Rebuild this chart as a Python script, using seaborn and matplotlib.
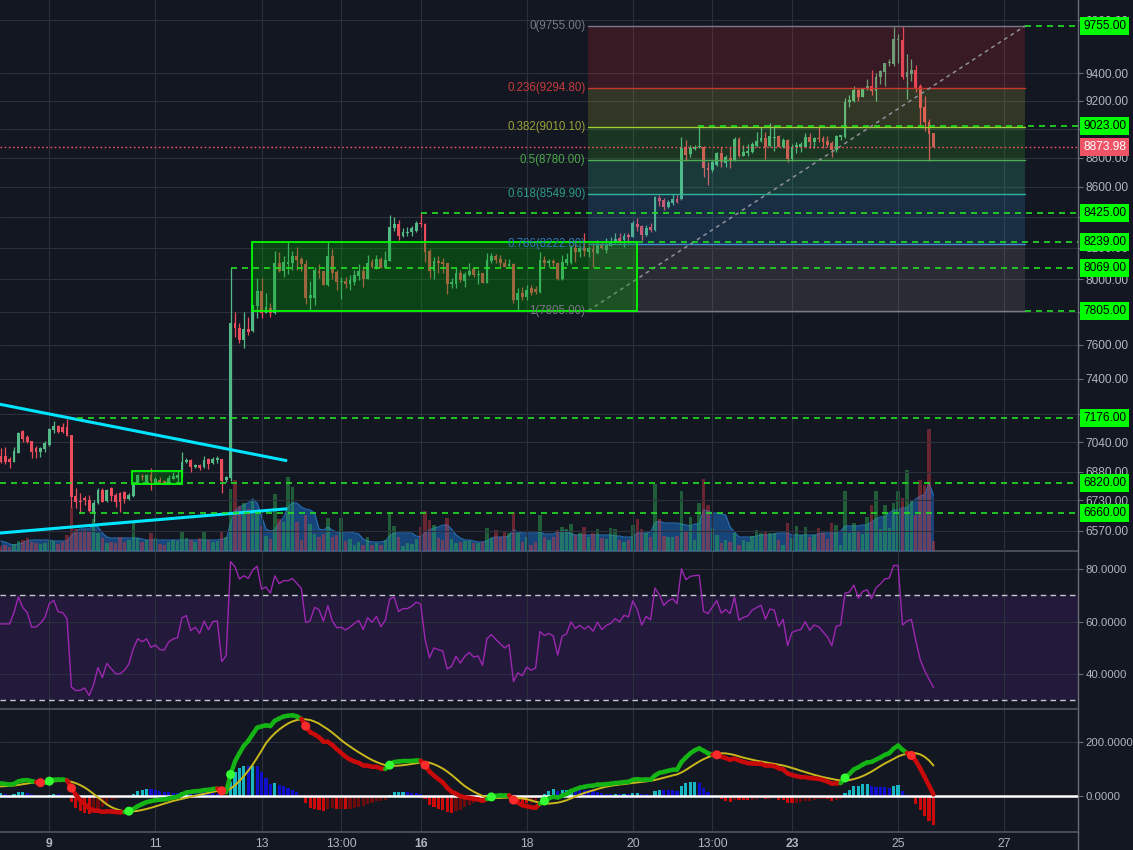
import numpy as np
import matplotlib
matplotlib.use('Agg')
import matplotlib.pyplot as plt
import seaborn as sns
from matplotlib.transforms import blended_transform_factory
from matplotlib.collections import LineCollection
from matplotlib.patches import Rectangle
from matplotlib.lines import Line2D
from matplotlib.ticker import FixedLocator, NullLocator, FixedFormatter

# ---------------- data (2h candles, BTC/USD, Dec 2019) ----------------
opens = [6966, 6966, 6948, 6935, 6984, 7105, 7069, 7048, 7008, 6990,
         7006, 7026, 7109, 7132, 7128, 7128, 7082, 6751, 6727, 6742,
         6730, 6664, 6713, 6783, 6727, 6795, 6757, 6769, 6774, 6734,
         6751, 6819, 6858, 6827, 6863, 6819, 6836, 6833, 6822, 6843,
         6845, 6854, 6933, 6944, 6905, 6917, 6905, 6948, 6926, 6944,
         6949, 6836, 6847, 7729, 7699, 7629, 7693, 7684, 7834, 7929,
         7793, 7824, 7790, 8105, 8054, 8096, 8101, 8147, 8128, 8096,
         7882, 7882, 8054, 8054, 7964, 8147, 8048, 7985, 7989, 7970,
         7985, 8021, 8054, 8002, 8109, 8069, 8128, 8073, 8115, 8326,
         8354, 8276, 8293, 8300, 8308, 8362, 8354, 8181, 8054, 8117,
         8111, 8101, 7970, 7970, 8041, 7989, 8027, 8063, 8029, 8041,
         7979, 8117, 8147, 8128, 8105, 8086, 8096, 7871, 7916, 7892,
         7944, 7937, 7923, 8122, 8101, 8117, 8105, 8000, 8105, 8101,
         8200, 8175, 8196, 8171, 8190, 8164, 8222, 8186, 8211, 8229,
         8265, 8250, 8282, 8271, 8352, 8341, 8282, 8332, 8315, 8528,
         8512, 8468, 8494, 8517, 8517, 8875, 8823, 8859, 8871, 8875,
         8726, 8715, 8749, 8834, 8761, 8799, 8783, 8927, 8811, 8834,
         8841, 8880, 8915, 8936, 8880, 8938, 8950, 8875, 8922, 8790,
         8871, 8875, 8875, 8945, 8906, 8938, 8938, 8917, 8903, 8852,
         8945, 8941, 9194, 9201, 9278, 9230, 9296, 9307, 9273, 9371,
         9412, 9474, 9469, 9649, 9649, 9375, 9395, 9425, 9307, 9157,
         9051, 8973]
highs = [7008, 7017, 6959, 7017, 7100, 7109, 7082, 7048, 7021, 7017,
         7050, 7119, 7158, 7136, 7147, 7169, 7082, 6792, 6765, 6751,
         6757, 6730, 6792, 6792, 6787, 6800, 6765, 6771, 6778, 6765,
         6824, 6868, 6868, 6868, 6899, 6854, 6854, 6836, 6863, 6881,
         6886, 6990, 6953, 6948, 6921, 6922, 6966, 6955, 6962, 6966,
         6949, 6859, 8069, 7796, 7729, 7796, 7765, 7840, 8010, 8006,
         7916, 7851, 8179, 8175, 8147, 8239, 8179, 8207, 8143, 8122,
         7989, 8080, 8096, 8054, 8239, 8192, 8058, 8016, 8016, 8027,
         8058, 8094, 8084, 8154, 8126, 8154, 8143, 8179, 8410, 8398,
         8380, 8326, 8332, 8341, 8375, 8425, 8362, 8190, 8143, 8147,
         8133, 8101, 8006, 8073, 8058, 8048, 8101, 8080, 8058, 8041,
         8168, 8164, 8160, 8154, 8126, 8126, 8105, 7944, 7954, 7964,
         7964, 7958, 8175, 8147, 8126, 8126, 8111, 8154, 8164, 8218,
         8229, 8213, 8293, 8211, 8231, 8250, 8237, 8263, 8271, 8297,
         8293, 8297, 8293, 8375, 8393, 8347, 8347, 8358, 8539, 8546,
         8524, 8512, 8552, 8546, 8943, 8922, 8887, 8887, 9023, 8880,
         8771, 8783, 8840, 8875, 8818, 8875, 8945, 8940, 8887, 8892,
         8910, 8976, 9016, 8980, 9039, 9027, 8957, 8938, 8927, 8892,
         8906, 8906, 8969, 8969, 8945, 9016, 8950, 8950, 8917, 8957,
         8957, 9218, 9242, 9307, 9290, 9295, 9358, 9425, 9405, 9425,
         9479, 9505, 9750, 9694, 9755, 9544, 9504, 9462, 9322, 9234,
         9070, 8973]
lows = [6926, 6923, 6899, 6932, 6981, 7044, 7036, 6954, 6954, 6959,
        6990, 7022, 7091, 7094, 7091, 7076, 6695, 6687, 6660, 6704,
        6669, 6617, 6708, 6720, 6721, 6727, 6695, 6669, 6716, 6730,
        6748, 6815, 6836, 6826, 6783, 6815, 6815, 6819, 6819, 6840,
        6819, 6851, 6926, 6881, 6899, 6890, 6903, 6895, 6922, 6929,
        6765, 6824, 6831, 7645, 7609, 7579, 7658, 7678, 7759, 7759,
        7790, 7765, 7785, 8048, 8016, 8033, 8058, 8058, 8054, 7847,
        7810, 7840, 8006, 7962, 7960, 8002, 7933, 7877, 7946, 7933,
        7964, 7996, 7954, 8002, 8069, 8065, 8069, 8069, 8115, 8310,
        8250, 8271, 8276, 8276, 8304, 8332, 8111, 8006, 7999, 8041,
        8038, 7908, 7944, 7944, 7985, 7954, 8021, 8013, 7970, 7975,
        7975, 8101, 8101, 8080, 8075, 8075, 7855, 7805, 7871, 7871,
        7902, 7908, 7913, 8080, 8080, 8086, 7996, 7996, 8090, 8096,
        8111, 8143, 8147, 8143, 8080, 8160, 8192, 8168, 8208, 8229,
        8224, 8207, 8229, 8267, 8308, 8250, 8276, 8304, 8308, 8472,
        8446, 8457, 8479, 8490, 8512, 8776, 8806, 8852, 8866, 8669,
        8613, 8703, 8742, 8737, 8737, 8726, 8776, 8806, 8811, 8811,
        8834, 8875, 8910, 8790, 8875, 8847, 8871, 8864, 8771, 8778,
        8834, 8841, 8871, 8864, 8864, 8910, 8864, 8875, 8806, 8841,
        8922, 8934, 9158, 9194, 9201, 9225, 9278, 9242, 9201, 9322,
        9307, 9454, 9454, 9479, 9358, 9213, 9346, 9266, 9027, 8987,
        8778, 8874]
closes = [6935, 6935, 6935, 6993, 7094, 7058, 7041, 6990, 6990, 7008,
          7036, 7113, 7132, 7098, 7096, 7078, 6748, 6720, 6721, 6730,
          6674, 6713, 6783, 6721, 6783, 6751, 6721, 6721, 6734, 6757,
          6819, 6863, 6851, 6863, 6831, 6840, 6824, 6822, 6849, 6859,
          6863, 6935, 6944, 6905, 6917, 6901, 6944, 6922, 6951, 6953,
          6833, 6851, 7729, 7699, 7629, 7693, 7678, 7840, 7929, 7793,
          7830, 7793, 8105, 8054, 8111, 8111, 8149, 8122, 8096, 7882,
          7902, 8056, 8041, 7964, 8147, 8038, 7985, 7989, 7970, 7996,
          8027, 8054, 8002, 8101, 8075, 8126, 8069, 8120, 8332, 8354,
          8276, 8304, 8304, 8326, 8362, 8354, 8175, 8051, 8117, 8105,
          8096, 7970, 7985, 8041, 7996, 8033, 8054, 8027, 8033, 7979,
          8122, 8147, 8122, 8101, 8080, 8096, 7871, 7913, 7892, 7933,
          7913, 7923, 8122, 8101, 8114, 8101, 8000, 8111, 8126, 8207,
          8175, 8196, 8179, 8196, 8175, 8225, 8196, 8218, 8229, 8254,
          8243, 8276, 8271, 8358, 8332, 8282, 8326, 8315, 8530, 8506,
          8468, 8501, 8517, 8501, 8864, 8818, 8864, 8875, 8880, 8726,
          8715, 8771, 8829, 8771, 8802, 8783, 8927, 8813, 8836, 8848,
          8894, 8915, 8934, 8875, 8950, 8945, 8875, 8922, 8790, 8875,
          8887, 8894, 8945, 8906, 8938, 8931, 8910, 8889, 8852, 8950,
          8957, 9194, 9206, 9278, 9225, 9291, 9307, 9273, 9375, 9417,
          9474, 9482, 9656, 9656, 9375, 9410, 9425, 9296, 9150, 9051,
          8964, 8873.98]
volumes = [5, 6, 4, 7, 10, 11, 13, 9, 8, 7,
           8, 11, 10, 7, 9, 16, 44, 22, 19, 21,
           19, 32, 18, 13, 8, 9, 8, 14, 9, 11,
           29, 13, 9, 11, 18, 13, 7, 6, 9, 11,
           10, 19, 13, 11, 9, 13, 20, 11, 9, 10,
           20, 14, 62, 71, 45, 48, 42, 50, 38, 25,
           15, 12, 57, 32, 29, 74, 64, 29, 11, 36,
           27, 17, 14, 17, 33, 14, 16, 33, 10, 12,
           6, 9, 6, 14, 6, 8, 6, 11, 38, 25,
           14, 5, 8, 7, 12, 24, 40, 31, 26, 13,
           11, 33, 12, 8, 9, 10, 10, 8, 8, 9,
           23, 13, 21, 14, 19, 18, 39, 18, 9, 14,
           6, 9, 36, 14, 11, 14, 21, 24, 22, 27,
           16, 18, 24, 14, 18, 22, 13, 12, 23, 22,
           11, 9, 11, 26, 32, 22, 18, 14, 67, 32,
           15, 14, 14, 15, 60, 19, 34, 11, 48, 72,
           46, 23, 16, 8, 11, 9, 18, 6, 11, 9,
           15, 21, 18, 20, 18, 18, 11, 6, 28, 13,
           25, 16, 24, 14, 16, 23, 18, 12, 28, 26,
           6, 60, 18, 28, 19, 17, 34, 46, 60, 22,
           46, 23, 48, 60, 53, 81, 51, 36, 71, 66,
           122, 10]
volume_ma = [10, 9, 7, 6, 7, 8, 10, 11, 11, 11,
             11, 11, 10, 10, 10, 10, 15, 20, 22, 22,
             22, 26, 24, 18, 14, 13, 13, 13, 13, 13,
             13, 13, 12, 11, 11, 11, 11, 11, 11, 11,
             11, 11, 11, 11, 11, 11, 11, 11, 11, 11,
             12, 12, 28, 40, 44, 46, 48, 52, 48, 35,
             22, 20, 21, 28, 34, 44, 48, 48, 44, 42,
             41, 38, 22, 21, 24, 21, 19, 19, 19, 19,
             18, 17, 12, 10, 9, 9, 9, 10, 15, 18,
             18, 18, 18, 18, 15, 14, 18, 21, 23, 24,
             26, 26, 22, 16, 13, 11, 11, 10, 9, 9,
             10, 13, 14, 14, 14, 15, 21, 19, 18, 18,
             18, 18, 19, 17, 17, 17, 19, 20, 20, 17,
             16, 16, 16, 16, 16, 16, 16, 16, 16, 15,
             15, 14, 14, 14, 18, 18, 18, 19, 28, 30,
             28, 28, 28, 28, 27, 26, 25, 27, 27, 41,
             40, 38, 38, 37, 36, 24, 19, 14, 14, 14,
             14, 15, 16, 16, 16, 17, 18, 18, 18, 16,
             16, 16, 16, 16, 16, 17, 18, 18, 18, 18,
             20, 25, 25, 25, 25, 26, 26, 29, 32, 34,
             34, 38, 41, 41, 43, 43, 48, 52, 55, 56,
             68, 56]

day_tick_pos = [11, 35, 59, 77, 95, 119, 143, 161, 179, 203, 227]
day_tick_labels = ['9', '11', '13', '13:00', '16', '18', '20', '13:00', '23', '25', '27']
bold_day_labels = ['9', '16', '23']

# price grid; labels hidden under the level tags are left blank
price_ticks = [9800, 9400, 9200, 9000, 8800, 8600, 8400, 8200, 8000, 7800,
               7600, 7400, 7200, 7040, 6880, 6730, 6570]
price_tick_labels = ['9800.00', '9400.00', '9200.00', '', '8800.00', '8600.00', '', '8200.00',
                     '8000.00', '', '7600.00', '7400.00', '', '7040.00', '6880.00', '6730.00',
                     '6570.00']
rsi_ticks = [80, 60, 40]
rsi_tick_labels = ['80.0000', '60.0000', '40.0000']
macd_ticks = [200, 0]
macd_tick_labels = ['200.0000', '0.0000']

level_values = [9755, 9023, 8425, 8239, 8069, 7805, 7176, 6820, 6660]
level_start_bar = [231.7, 157.8, 95.1, 143.9, 52.1, 231.7, 17.3, -0.2, 17.7]
last_price = 8873.98

fib_ratios = [0, 0.236, 0.382, 0.5, 0.618, 0.786, 1]
fib_prices = [9755.00, 9294.80, 9010.10, 8780.00, 8549.90, 8222.80, 7805.00]
fib_bar_span = (132.9, 231.7)

range_box = (56.9, 143.9, 7805, 8239)
small_box = (29.8, 41.0, 6814, 6885)
upper_trend = ((-0.2, 64.8), (7254, 6940))
lower_trend = ((-0.2, 64.8), (6558, 6684))

rsi_start_gain, rsi_start_loss = 26.0, 18.0
ema_fast_start_offset, ema_slow_start_offset, signal_start = -15.0, -62.0, 34.0

# ---------------- style ----------------
BG = '#131722'
GRID = '#2c303c'
TXT = '#b2b5be'
AXC = '#6a6d78'
UP = '#53b987'
DN = '#eb4d5c'
LIME = '#00ff00'

sns.set_theme(style='dark', rc={
    'axes.facecolor': BG, 'figure.facecolor': BG, 'savefig.facecolor': BG,
    'grid.color': GRID, 'axes.edgecolor': AXC, 'text.color': TXT,
    'xtick.color': TXT, 'ytick.color': TXT, 'axes.grid': True})
plt.rcParams['font.family'] = ['Liberation Sans', 'DejaVu Sans']

O = np.array(opens, float); Hi = np.array(highs, float)
Lo = np.array(lows, float); C = np.array(closes, float)
V = np.array(volumes, float); VMA = np.array(volume_ma, float)
n = len(C)
x = np.arange(n)
up = C >= O

# ---------------- indicators ----------------
rsi = np.zeros(n)
ag, al = rsi_start_gain, rsi_start_loss
rsi[0] = 100 * ag / (ag + al)
for t in range(1, n):
    d = C[t] - C[t - 1]
    ag = (ag * 13 + max(d, 0)) / 14
    al = (al * 13 + max(-d, 0)) / 14
    rsi[t] = 100 * ag / (ag + al)

a12, a26 = 2 / 13, 2 / 27
e12 = np.zeros(n); e26 = np.zeros(n)
e12[0] = C[0] + ema_fast_start_offset
e26[0] = C[0] + ema_slow_start_offset
for t in range(1, n):
    e12[t] = e12[t - 1] + a12 * (C[t] - e12[t - 1])
    e26[t] = e26[t - 1] + a26 * (C[t] - e26[t - 1])
macd = e12 - e26
# signal: 9-period simple average of MACD (warm-up padded with the starting signal)
padded = np.concatenate([np.full(8, signal_start), macd])
sig = np.array([padded[t:t + 9].mean() for t in range(n)])
hist = macd - sig

# ---------------- figure ----------------
W, HH = 1133, 850
fig = plt.figure(figsize=(W / 100, HH / 100), dpi=100)
R = 1078 / W
ax = fig.add_axes([0, 1 - 551 / HH, R, 551 / HH])
ax_rsi = fig.add_axes([0, 1 - 709 / HH, R, 158 / HH], sharex=ax)
ax_macd = fig.add_axes([0, 1 - 832 / HH, R, 123 / HH], sharex=ax)
axv = ax.twinx()
ax.set_zorder(3); axv.set_zorder(2)
ax.patch.set_visible(False); axv.patch.set_visible(False)

XL = (-0.16, 243.7)

# volume
vcol = np.where(up, '#2fb457', '#d43a44')
axv.fill_between(x, 0, VMA, color='#1c64b4', alpha=0.6, lw=0, zorder=1)
axv.plot(x, VMA, color='#2a7fd0', lw=0.8, alpha=0.8, zorder=1.5)
axv.bar(x, V, width=0.78, color=vcol, alpha=0.45, lw=0, zorder=2)
axv.set_ylim(0, 551)
axv.set_yticks([]); axv.grid(False)
for s in axv.spines.values():
    s.set_visible(False)

# candles
ccol = np.where(up, UP, DN)
ax.vlines(x, Lo, Hi, colors=ccol, lw=0.9, zorder=3)
blo = np.minimum(O, C)
bh = np.maximum(np.abs(C - O), blo * 0.0007)
ax.bar(x, bh, bottom=blo, width=0.64, color=ccol, lw=0, zorder=3)

ax.set_yscale('log')
ax.set_ylim(6466.5, 9955.7)

# fib retracement
fib_fill = ['#d12b31', '#aeb736', '#40b22c', '#3bc69a', '#368fcc', '#8b8586']
fib_line = ['#787b86', '#c8372f', '#9fcf2a', '#4caf50', '#2fb39a', '#3d8fd0', '#787b86']
fib_txt = ['#787b86', '#c83c3c', '#9aa334', '#4aa848', '#2a9c88', '#2f78b4', '#787b86']
fx0, fx1 = fib_bar_span
for i in range(6):
    ax.fill_between([fx0, fx1], fib_prices[i + 1], fib_prices[i], color=fib_fill[i],
                    alpha=0.2, lw=0, zorder=4)
for p, lc in zip(fib_prices, fib_line):
    ax.plot([fx0, fx1], [p, p], color=lc, lw=1.0, zorder=4.5)
for r, p, tc in zip(fib_ratios, fib_prices, fib_txt):
    ax.text(fx0 - 0.6, p, f'{r:g}({p:.2f})', ha='right', va='center', color=tc,
            fontsize=8.3, zorder=8)
ax.plot([fx0, fx1], [fib_prices[-1], fib_prices[0]], color='#8e9099', lw=1.1,
        ls=(0, (2.5, 2.5)), zorder=4.6)

# rectangles
bx0, bx1, by0, by1 = range_box
ax.add_patch(Rectangle((bx0, by0), bx1 - bx0, by1 - by0, fc=(0.0, 0.62, 0.0, 0.33),
                       ec=LIME, lw=1.3, zorder=5))
sx0, sx1, sy0, sy1 = small_box
ax.add_patch(Rectangle((sx0, sy0), sx1 - sx0, sy1 - sy0, fc=(0.0, 0.62, 0.0, 0.33),
                       ec=LIME, lw=1.3, zorder=5))

# trend lines
ax.plot(upper_trend[0], upper_trend[1], color='#00e5ff', lw=2.2, zorder=6, solid_capstyle='butt')
ax.plot(lower_trend[0], lower_trend[1], color='#00e5ff', lw=2.2, zorder=6, solid_capstyle='butt')

# horizontal levels
for v, xs in zip(level_values, level_start_bar):
    ax.hlines(v, xs, XL[1], colors='#22e022', linestyles=(0, (3.6, 3.0)), lw=1.2, zorder=6)
ax.axhline(last_price, color='#f05262', ls=(0, (1.2, 1.8)), lw=1.0, zorder=6)

# right-axis value tags
trans = blended_transform_factory(ax.transAxes, ax.transData)
for v in level_values:
    ax.text(1 + 5 / 1078, v, f'{v:.2f}', transform=trans, ha='left', va='center',
            fontsize=8.6, color='#000000', clip_on=False, zorder=10,
            bbox=dict(boxstyle='square,pad=0.26', fc=LIME, ec='none'))
ax.text(1 + 5 / 1078, last_price, f'{last_price:.2f}', transform=trans, ha='left',
        va='center', fontsize=8.6, color='#ffffff', clip_on=False, zorder=10,
        bbox=dict(boxstyle='square,pad=0.26', fc='#ef5466', ec='none'))

# RSI
ax_rsi.axhspan(30, 70, color='#22193b', lw=0, zorder=0.2)
for lv in (70, 30):
    ax_rsi.axhline(lv, color='#c5c7cc', ls=(0, (4, 3)), lw=1.0, zorder=2)
sns.lineplot(x=x, y=rsi, ax=ax_rsi, color='#9c27b0', linewidth=1.0, zorder=3)
ax_rsi.set_ylim(26.67, 86.86)

# MACD
hcol = []
for t in range(n):
    prev = hist[t - 1] if t > 0 else hist[t]
    if hist[t] >= 0:
        hcol.append('#18b6c2' if hist[t] >= prev else '#1010cc')
    else:
        hcol.append('#cc0a0a' if hist[t] <= prev else '#6e0c0c')
ax_macd.bar(x, hist, width=0.72, color=hcol, lw=0, zorder=2)
ax_macd.axhline(0, color='#ffffff', lw=1.8, zorder=3)
sns.lineplot(x=x, y=sig, ax=ax_macd, color='#c9b81c', linewidth=1.4, zorder=4)
pts = np.column_stack([x, macd])
segs = np.stack([pts[:-1], pts[1:]], axis=1)
above = macd >= sig
segcol = np.where(above[1:], '#14b414', '#c80a0a')
ax_macd.add_collection(LineCollection(segs, colors=segcol, linewidths=3.2,
                                      capstyle='round', zorder=5))
cross_idx = [t for t in range(1, n) if above[t] != above[t - 1]]
cx = np.array(cross_idx)
cy = macd[cx]
ccols = ['#33ff33' if above[t] else '#ff2a2a' for t in cross_idx]
sns.scatterplot(x=cx, y=cy, ax=ax_macd, color=ccols, s=42, linewidth=0, zorder=6, legend=False)
ax_macd.set_ylim(-133.3, 322.2)

# axes cosmetics
ax.yaxis.set_major_locator(FixedLocator(price_ticks))
ax.yaxis.set_minor_locator(NullLocator())
ax.yaxis.set_major_formatter(FixedFormatter(price_tick_labels))
ax_rsi.yaxis.set_major_locator(FixedLocator(rsi_ticks))
ax_rsi.yaxis.set_major_formatter(FixedFormatter(rsi_tick_labels))
ax_macd.yaxis.set_major_locator(FixedLocator(macd_ticks))
ax_macd.yaxis.set_major_formatter(FixedFormatter(macd_tick_labels))

for a, fs in ((ax, 8.6), (ax_rsi, 8.2), (ax_macd, 8.2)):
    a.set_xlim(*XL)
    a.set_xlabel(''); a.set_ylabel('')
    a.yaxis.tick_right()
    a.tick_params(axis='y', which='both', right=True, left=False, labelright=True,
                  labelleft=False, length=3.5, width=0.8, color=AXC, labelsize=fs,
                  labelcolor=TXT, pad=2.0)
    a.tick_params(axis='x', bottom=False, top=False, labelbottom=False, length=0)
    a.grid(True, color=GRID, lw=0.8)
    for s in a.spines.values():
        s.set_visible(False)
    a.spines['right'].set_visible(True)
    a.spines['right'].set_color(AXC)
    a.spines['right'].set_linewidth(1.0)

ax_macd.set_xticks(day_tick_pos, labels=day_tick_labels)
ax_macd.tick_params(axis='x', labelbottom=True, labelsize=8.7, labelcolor=TXT, pad=4.5)
for lbl in ax_macd.get_xticklabels():
    if lbl.get_text() in bold_day_labels:
        lbl.set_fontweight('bold')
for a in (ax_rsi, ax_macd):
    a.spines['top'].set_visible(True)
    a.spines['top'].set_color('#50535e')
ax_macd.spines['bottom'].set_visible(True)
ax_macd.spines['bottom'].set_color('#50535e')

# price-scale separator continuing through the time-axis strip
fig.add_artist(Line2D([R, R], [0, 1 - 832 / HH], transform=fig.transFigure,
                      color=AXC, lw=1.0))

fig.savefig('out.png', dpi=100, facecolor=BG)
